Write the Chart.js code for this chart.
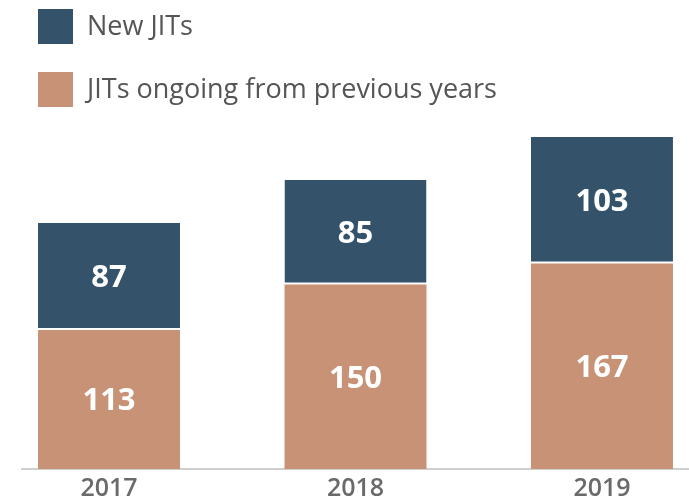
<!DOCTYPE html>
<html>
<head>
<meta charset="utf-8">
<script src="https://cdn.jsdelivr.net/npm/chart.js@4/dist/chart.umd.min.js"></script>
<style>
  html, body { margin: 0; padding: 0; background: #fff; }
  #wrap { position: relative; width: 689px; height: 500px; }
</style>
</head>
<body>
<div id="wrap"><canvas id="chart"></canvas></div>
<script>
const years = [2017, 2018, 2019];
const ongoing = [113, 150, 167];
const newJits = [87, 85, 103];

const BLUE = "#34536a";
const ORANGE = "#c89277";

// value labels in the middle of each segment
const segmentLabels = {
    id: "segmentLabels",
    afterDatasetsDraw(chart) {
        const ctx = chart.ctx;
        ctx.save();
        ctx.font = "bold 31px 'Open Sans'";
        ctx.fillStyle = "#fff";
        ctx.textAlign = "center";
        ctx.textBaseline = "middle";
        chart.data.datasets.forEach((ds, i) => {
            const meta = chart.getDatasetMeta(i);
            meta.data.forEach((bar, j) => {
                const { x, y, base } = bar.getProps(["x", "y", "base"], true);
                ctx.fillText(String(ds.data[j]), x, (y + base) / 2 + 2);
            });
        });
        ctx.restore();
    }
};

// stacked legend, top-left, last dataset first
const sideLegend = {
    id: "sideLegend",
    afterDraw(chart) {
        const ctx = chart.ctx;
        ctx.save();
        ctx.font = "27px 'Open Sans'";
        ctx.textBaseline = "middle";
        const items = chart.data.datasets.slice().reverse();
        items.forEach((ds, k) => {
            const top = 9 + k * 63;
            ctx.fillStyle = ds.backgroundColor;
            ctx.fillRect(38, top, 35, 35);
            ctx.fillStyle = "#555";
            ctx.fillText(ds.label, 87, top + 18);
        });
        ctx.restore();
    }
};

new Chart(document.getElementById("chart"), {
    type: "bar",
    data: {
        labels: years,
        datasets: [
            {
                label: "JITs ongoing from previous years",
                data: ongoing,
                backgroundColor: ORANGE,
                borderWidth: 0,
                stack: "a"
            },
            {
                label: "New JITs",
                data: newJits,
                backgroundColor: BLUE,
                borderColor: "#fff",
                borderWidth: { top: 0, left: 0, right: 0, bottom: 2 },
                borderSkipped: false,
                stack: "a"
            }
        ]
    },
    options: {
        responsive: true,
        maintainAspectRatio: false,
        animation: false,
        barPercentage: 0.576,
        categoryPercentage: 1,
        layout: { padding: { top: 100, left: 22, right: 0, bottom: -9 } },
        scales: {
            x: {
                type: "linear",
                offset: false,
                stacked: true,
                min: 2016.647,
                max: 2019.353,
                afterBuildTicks: (scale) => {
                    scale.ticks = years.map((v) => ({ value: v }));
                },
                grid: { display: false, drawTicks: false },
                border: { display: true, color: "#cfcfcf", width: 2 },
                ticks: {
                    padding: 5,
                    color: "#6a6a6a",
                    font: { family: "'Open Sans'", size: 25, weight: "600", lineHeight: 1.2 },
                    callback: (v) => String(v)
                }
            },
            y: {
                stacked: true,
                display: false,
                min: 0,
                max: 300
            }
        },
        plugins: {
            legend: { display: false },
            tooltip: { enabled: false }
        }
    },
    plugins: [segmentLabels, sideLegend]
});
</script>
</body>
</html>
